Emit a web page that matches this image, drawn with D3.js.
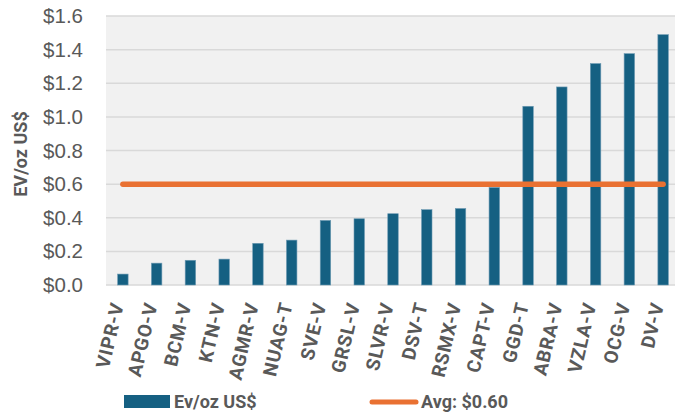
<!DOCTYPE html>
<html>
<head>
<meta charset="utf-8">
<script src="https://cdn.jsdelivr.net/npm/d3@7"></script>
<style>
  body { margin: 0; background: #fff; }
  svg { display: block; }
</style>
</head>
<body>
<div id="chart"></div>
<script>
// Data
const tickers = ["VIPR-V", "APGO-V", "BCM-V", "KTN-V", "AGMR-V", "NUAG-T", "SVE-V", "GRSL-V", "SLVR-V",
    "DSV-T", "RSMX-V", "CAPT-V", "GGD-T", "ABRA-V", "VZLA-V", "OCG-V", "DV-V"];
const evPerOz = [0.065, 0.13, 0.147, 0.154, 0.248, 0.267, 0.384, 0.394, 0.424,
    0.448, 0.455, 0.58, 1.063, 1.178, 1.317, 1.376, 1.489];
const avgValue = 0.60;
const yTicks = [0, 0.2, 0.4, 0.6, 0.8, 1.0, 1.2, 1.4, 1.6];
const seriesNames = ["Ev/oz US$", "Avg: $0.60"];

const width = 675;
const height = 418;
const barColor = "#156082";
const avgColor = "#E97132";
const textColor = "#595959";

const svg = d3.select("#chart").append("svg")
    .attr("width", width)
    .attr("height", height);

// Plot area
const plot = { left: 106, right: 680, top: 16, bottom: 285 };

const x = d3.scaleBand()
    .domain(tickers)
    .range([plot.left, plot.right])
    .paddingInner(0.69)
    .paddingOuter(0.345);

const y = d3.scaleLinear()
    .domain([0, 1.6])
    .range([plot.bottom, plot.top]);

svg.append("rect")
    .attr("x", plot.left)
    .attr("y", plot.top)
    .attr("width", plot.right - plot.left)
    .attr("height", plot.bottom - plot.top)
    .attr("fill", "#f1f1f1");

// Gridlines
svg.append("g")
    .selectAll("line")
    .data(yTicks)
    .join("line")
    .attr("x1", plot.left)
    .attr("x2", plot.right)
    .attr("y1", d => y(d))
    .attr("y2", d => y(d))
    .attr("stroke", "#d9d9d9")
    .attr("stroke-width", 1.5);

// Y axis labels
const yAxis = svg.append("g")
    .attr("transform", `translate(${plot.left - 23},0)`)
    .call(d3.axisLeft(y).tickValues(yTicks).tickFormat(d => "$" + d3.format(".1f")(d)).tickSize(0).tickPadding(0));
yAxis.select(".domain").remove();
yAxis.selectAll("text")
    .attr("font-family", "'Liberation Sans', Arial, sans-serif")
    .attr("font-size", 20.5)
    .attr("fill", textColor);

// Y axis title
svg.append("text")
    .attr("transform", "translate(27,154) rotate(-90)")
    .attr("text-anchor", "middle")
    .attr("font-family", "Roboto, sans-serif")
    .attr("font-weight", "bold")
    .attr("font-size", 18)
    .attr("fill", textColor)
    .text("EV/oz US$");

// Bars
svg.append("g")
    .selectAll("rect")
    .data(tickers)
    .join("rect")
    .attr("x", d => x(d))
    .attr("width", x.bandwidth())
    .attr("y", (d, i) => y(evPerOz[i]))
    .attr("height", (d, i) => y(0) - y(evPerOz[i]))
    .attr("fill", barColor)
    .attr("stroke", "#6d9ab3")
    .attr("stroke-width", 0.6);

// Average line
const half = x.bandwidth() / 2;
svg.append("line")
    .attr("x1", x(tickers[0]) + half)
    .attr("x2", x(tickers[tickers.length - 1]) + half)
    .attr("y1", y(avgValue))
    .attr("y2", y(avgValue))
    .attr("stroke", avgColor)
    .attr("stroke-width", 5.5)
    .attr("stroke-linecap", "round");

// Category labels
svg.append("g")
    .selectAll("text")
    .data(tickers)
    .join("text")
    .attr("transform", d => `translate(${x(d) + half + 1},${plot.bottom + 19}) rotate(-77)`)
    .attr("text-anchor", "end")
    .attr("font-family", "Roboto, sans-serif")
    .attr("font-weight", "bold")
    .attr("font-size", 19)
    .attr("letter-spacing", 0.8)
    .attr("fill", textColor)
    .text(d => d);

// Legend
const legend = svg.append("g");
legend.append("rect")
    .attr("x", 124).attr("y", 395)
    .attr("width", 46).attr("height", 13)
    .attr("fill", barColor);
legend.append("line")
    .attr("x1", 372).attr("x2", 416)
    .attr("y1", 402).attr("y2", 402)
    .attr("stroke", avgColor)
    .attr("stroke-width", 5)
    .attr("stroke-linecap", "round");
legend.selectAll("text")
    .data(seriesNames)
    .join("text")
    .attr("x", (d, i) => i === 0 ? 174 : 421)
    .attr("y", 408)
    .attr("font-family", "Roboto, sans-serif")
    .attr("font-weight", "bold")
    .attr("font-size", 18)
    .attr("fill", textColor)
    .text(d => d);
</script>
</body>
</html>
